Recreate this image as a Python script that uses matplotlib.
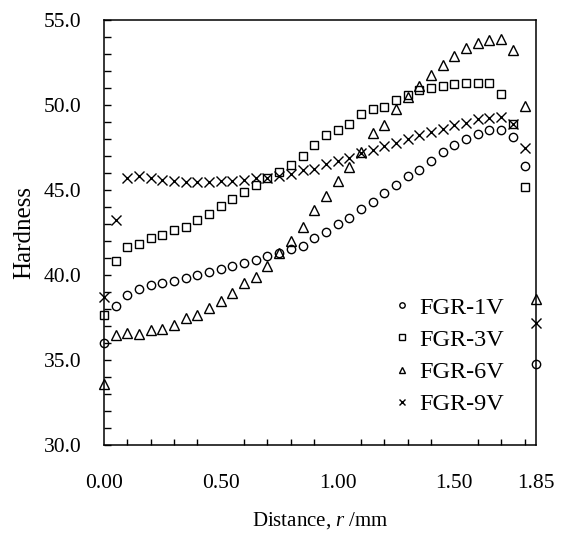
import numpy as np
import matplotlib.pyplot as plt
from matplotlib.ticker import MultipleLocator, FixedLocator

plt.rcParams['font.family'] = ['Liberation Serif', 'DejaVu Serif']
plt.rcParams['mathtext.fontset'] = 'custom'
plt.rcParams['mathtext.it'] = 'Liberation Serif:italic'
plt.rcParams['mathtext.rm'] = 'Liberation Serif'

# distance from centre, mm (0.05 mm steps)
r = np.round(np.arange(0, 1.851, 0.05), 2)

fgr_1v = [36.0, 38.2, 38.8, 39.2, 39.4, 39.55, 39.65, 39.8, 40.0, 40.15,
          40.35, 40.55, 40.7, 40.9, 41.1, 41.3, 41.5, 41.7, 42.15, 42.55,
          43.0, 43.35, 43.85, 44.3, 44.8, 45.3, 45.8, 46.2, 46.7, 47.2,
          47.65, 48.0, 48.3, 48.5, 48.55, 48.1, 46.4, 34.75]
fgr_3v = [37.65, 40.85, 41.65, 41.8, 42.15, 42.35, 42.65, 42.85, 43.25, 43.6,
          44.05, 44.45, 44.9, 45.3, 45.7, 46.05, 46.45, 47.0, 47.65, 48.2,
          48.55, 48.9, 49.45, 49.75, 49.9, 50.3, 50.6, 50.9, 51.0, 51.1,
          51.2, 51.3, 51.3, 51.3, 50.65, 48.85, 45.2]
fgr_6v = [33.6, 36.45, 36.6, 36.55, 36.75, 36.85, 37.05, 37.45, 37.65, 38.05,
          38.45, 38.95, 39.5, 39.9, 40.5, 41.3, 42.0, 42.85, 43.8, 44.65,
          45.55, 46.35, 47.2, 48.35, 48.8, 49.75, 50.45, 51.1, 51.75, 52.35,
          52.85, 53.35, 53.65, 53.8, 53.9, 53.2, 49.95, 38.6]
fgr_9v = [38.7, 43.25, 45.7, 45.8, 45.7, 45.6, 45.5, 45.45, 45.45, 45.45,
          45.5, 45.55, 45.6, 45.7, 45.7, 45.8, 45.95, 46.15, 46.25, 46.55,
          46.7, 46.85, 47.15, 47.35, 47.6, 47.75, 48.0, 48.25, 48.4, 48.6,
          48.8, 48.95, 49.15, 49.25, 49.3, 48.9, 47.45, 37.2]

xticks = [0.0, 0.5, 1.0, 1.5, 1.85]
xticklabels = ['0.00', '0.50', '1.00', '1.50', '1.85']

fig = plt.figure(figsize=(5.68, 5.35), dpi=100)
ax = fig.add_axes([0.183, 0.168, 0.761, 0.795])

kw = dict(linestyle='none', markerfacecolor='none', markeredgecolor='black',
          markeredgewidth=1.0, clip_on=False)
ax.plot(r, fgr_1v, marker='o', markersize=6, label='FGR-1V', **kw)
ax.plot(r[:len(fgr_3v)], fgr_3v, marker='s', markersize=6, label='FGR-3V', **kw)
ax.plot(r, fgr_6v, marker='^', markersize=6.5, label='FGR-6V', **kw)
ax.plot(r, fgr_9v, marker='x', markersize=6.5, label='FGR-9V', **kw)

ax.set_xlim(0, 1.85)
ax.set_ylim(30, 55)
ax.xaxis.set_major_locator(FixedLocator(xticks))
ax.set_xticklabels(xticklabels)
ax.xaxis.set_minor_locator(FixedLocator(np.round(np.arange(0.1, 1.81, 0.1), 2)))
ax.yaxis.set_major_locator(MultipleLocator(5))
ax.yaxis.set_minor_locator(MultipleLocator(1))
ax.yaxis.set_major_formatter(plt.FormatStrFormatter('%.1f'))

ax.tick_params(axis='both', which='both', direction='in', labelsize=15.5,
               top=False, right=False)
ax.tick_params(axis='x', which='major', direction='in', length=0, pad=21)
ax.tick_params(axis='x', which='minor', direction='in', length=4, width=1)
ax.tick_params(axis='y', which='major', direction='in', length=5, width=1, pad=16)
ax.tick_params(axis='y', which='minor', direction='in', length=5, width=1)
for s in ax.spines.values():
    s.set_linewidth(1.1)

ax.set_xlabel('Distance, $r$ /mm', fontsize=15, labelpad=12)
ax.set_ylabel('Hardness', fontsize=18, labelpad=6)

ax.legend(loc='lower right', bbox_to_anchor=(0.925, 0.07), frameon=False,
          fontsize=17.5, markerscale=0.65, handlelength=0.8, handletextpad=0.3,
          labelspacing=0.42, borderpad=0, borderaxespad=0)

fig.savefig('out.png', dpi=100)
